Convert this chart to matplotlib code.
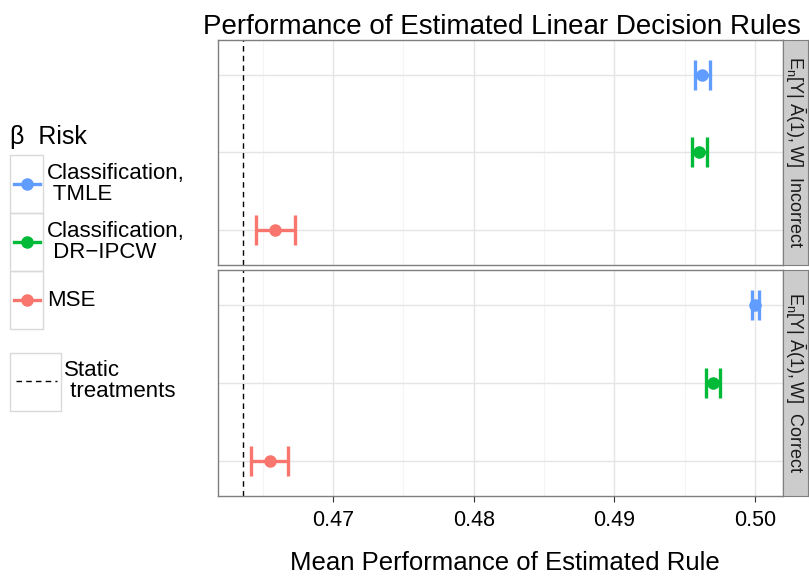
import matplotlib.pyplot as plt
from matplotlib.patches import Rectangle
from matplotlib.lines import Line2D

plt.rcParams['font.family'] = 'Liberation Sans'
plt.rcParams['mathtext.fontset'] = 'custom'
plt.rcParams['mathtext.rm'] = 'Liberation Sans'
plt.rcParams['mathtext.it'] = 'Liberation Sans'

# data
methods = ['Classification,\n TMLE', 'Classification,\n DR\u2212IPCW', 'MSE']
colors = ['#619CFF', '#00BA38', '#F8766D']
panels = ['Incorrect', 'Correct']
est = {'Incorrect': [0.4962, 0.4960, 0.4659],
       'Correct': [0.5000, 0.4970, 0.4655]}
lo = {'Incorrect': [0.4957, 0.4955, 0.4645],
      'Correct': [0.4998, 0.4965, 0.4642]}
hi = {'Incorrect': [0.4968, 0.4966, 0.4673],
      'Correct': [0.5003, 0.4975, 0.4668]}
static_value = 0.4636
xticks = [0.47, 0.48, 0.49, 0.50]
minor_ticks = [0.465, 0.475, 0.485, 0.495]

W, H = 809, 577
fig = plt.figure(figsize=(W / 100, H / 100), dpi=100)

boxes = [(40, 265), (270, 496)]
left, right, strip_w = 218, 783, 25
axes = []
for (top, bot), pname in zip(boxes, panels):
    ax = fig.add_axes([left / W, 1 - bot / H, (right - left) / W, (bot - top) / H])
    axes.append(ax)
    ypos = list(range(len(methods)))
    for i in ypos:
        e = est[pname][i]
        ax.errorbar(e, i, xerr=[[e - lo[pname][i]], [hi[pname][i] - e]], fmt='o',
                    color=colors[i], ms=8, elinewidth=2.4, capsize=11, capthick=2.4, zorder=3)
    ax.axvline(static_value, color='black', lw=1, ls=(0, (4, 3)), zorder=2)
    ax.set_xlim(0.46182, 0.50199)
    ax.set_ylim(len(methods) - 1 + 0.45, -0.45)
    ax.set_yticks(ypos)
    ax.set_yticklabels([])
    ax.tick_params(axis='y', length=0)
    ax.set_xticks(xticks)
    ax.set_xticks(minor_ticks, minor=True)
    ax.grid(True, which='major', color='#e5e5e5', lw=1)
    ax.grid(True, which='minor', axis='x', color='#f4f4f4', lw=0.8)
    ax.set_axisbelow(True)
    for s in ax.spines.values():
        s.set_color('#7f7f7f')
        s.set_linewidth(1)
    ax.tick_params(axis='x', which='minor', length=0)
    # strip on right
    sax = fig.add_axes([right / W, 1 - bot / H, strip_w / W, (bot - top) / H])
    sax.set_xticks([])
    sax.set_yticks([])
    sax.set_facecolor('#cccccc')
    for s in sax.spines.values():
        s.set_color('#7f7f7f')
    sax.text(0.5, 0.5, r'$\mathregular{E_n[Y|\ \bar{A}(1),W]}$  ' + pname, rotation=270,
             ha='center', va='center', fontsize=13, transform=sax.transAxes, color='#1a1a1a')

axes[0].tick_params(axis='x', which='major', length=0, labelbottom=False)
axes[1].tick_params(axis='x', which='major', length=4, color='#333333', labelsize=15.5, pad=6)
axes[1].set_xticklabels(['0.47', '0.48', '0.49', '0.50'])
axes[1].set_xlabel('Mean Performance of Estimated Rule', fontsize=18.5, va='center')
axes[1].xaxis.set_label_coords(0.507, -(563 - 496) / 226)

fig.text(502 / W, 1 - 27 / H, 'Performance of Estimated Linear Decision Rules',
         ha='center', va='center', fontsize=20)

# legend drawn in pixel coordinates
lax = fig.add_axes([0, 0, 1, 1], facecolor='none')
lax.set_xlim(0, W)
lax.set_ylim(H, 0)
lax.axis('off')
lax.text(10, 137, '\u03b2  Risk', fontsize=18, va='center', ha='left')
key_tops = [155, 213, 271]
for i, m in enumerate(methods):
    t = key_tops[i]
    lax.add_patch(Rectangle((10.5, t), 33, 58, fill=False, edgecolor='#d9d9d9', lw=1))
    cy = t + 29
    lax.add_line(Line2D([14, 40], [cy, cy], color=colors[i], lw=2.4))
    lax.plot(27, cy, 'o', color=colors[i], ms=8)
    lax.text(47, cy, m, fontsize=16, va='center', ha='left', linespacing=1.05)
lax.add_patch(Rectangle((10.5, 353), 51, 58, fill=False, edgecolor='#d9d9d9', lw=1))
lax.add_line(Line2D([16, 57], [381, 381], color='black', lw=1, ls=(0, (4, 3))))
lax.text(64, 381, 'Static\n treatments', fontsize=16, va='center', ha='left', linespacing=1.05)

fig.savefig('out.png', dpi=100)
